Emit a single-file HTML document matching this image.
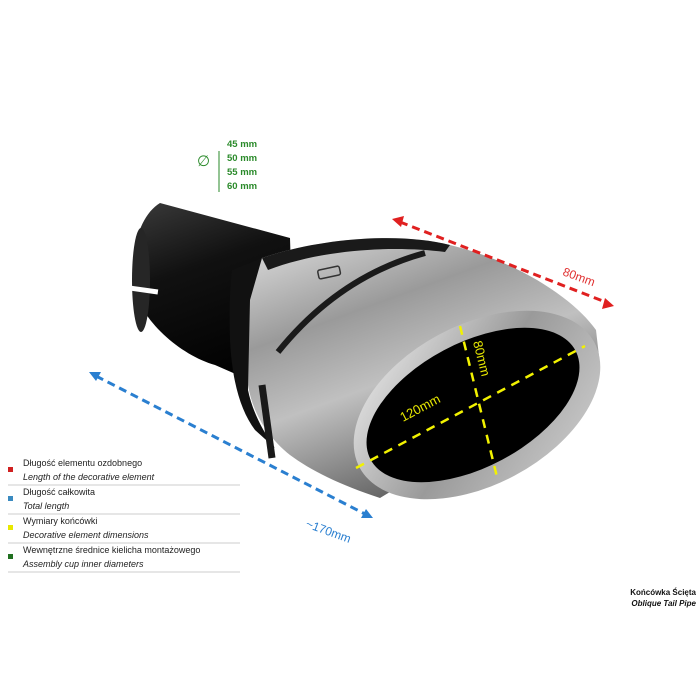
<!DOCTYPE html>
<html><head><meta charset="utf-8"><style>
html,body{margin:0;padding:0;background:#fff;width:700px;height:700px;overflow:hidden}
svg{display:block}
</style></head><body>
<svg width="700" height="700" viewBox="0 0 700 700" xmlns="http://www.w3.org/2000/svg" font-family="Liberation Sans, sans-serif">
<defs>
<linearGradient id="pipe" x1="0" y1="0" x2="0.3" y2="1">
<stop offset="0" stop-color="#3a3a3a"/><stop offset="0.4" stop-color="#111"/><stop offset="1" stop-color="#000"/>
</linearGradient>
<linearGradient id="chrome" x1="0" y1="0" x2="0.5" y2="1">
<stop offset="0" stop-color="#e0e0e0"/><stop offset="0.35" stop-color="#9a9a9a"/><stop offset="0.6" stop-color="#c0c0c0"/><stop offset="1" stop-color="#5a5a5a"/>
</linearGradient>
<linearGradient id="rim" x1="0" y1="0" x2="1" y2="1">
<stop offset="0" stop-color="#f0f0f0"/><stop offset="0.5" stop-color="#9a9a9a"/><stop offset="1" stop-color="#d0d0d0"/>
</linearGradient>
</defs>
<path d="M160,203 L290,238 L295,400 L215,365 C180,355 140,320 133,285 C130,250 140,215 160,203 Z" fill="url(#pipe)"/>
<ellipse cx="141" cy="280" rx="9" ry="52" fill="#262626"/>
<rect x="128" y="287" width="30" height="5" fill="#fff" transform="rotate(8 140 290)"/>
<path d="M262,258 C320,238 400,232 450,245 C520,262 575,300 596,330 L600,365 L380,498 C340,485 310,470 290,455 C265,435 252,410 248,385 L245,300 C247,280 252,265 262,258 Z" fill="url(#chrome)"/>
<path d="M262,258 C320,238 400,232 450,245 L445,252 C390,245 320,250 268,270 Z" fill="#1a1a1a"/>
<path d="M232,270 L262,258 L250,300 L248,390 C252,410 262,430 275,448 L255,430 C240,410 232,380 230,340 C229,310 230,285 232,270 Z" fill="#111"/>
<path d="M278,352 C320,300 370,268 425,253" stroke="#1a1a1a" stroke-width="6" fill="none"/>
<path d="M262,385 L272,458" stroke="#1a1a1a" stroke-width="7" fill="none"/>
<rect x="318" y="268" width="22" height="9" rx="2" fill="none" stroke="#333" stroke-width="1.5" transform="rotate(-12 329 272)"/>
<ellipse cx="477" cy="405" rx="133" ry="80" transform="rotate(-28 477 405)" fill="url(#rim)"/>
<ellipse cx="473" cy="405" rx="116" ry="62" transform="rotate(-28 473 405)" fill="#000"/>
<g stroke="#f2f200" stroke-width="2.5" stroke-dasharray="9,7" fill="none">
<line x1="356" y1="468" x2="585" y2="346"/>
<line x1="460" y1="326" x2="497" y2="477"/>
</g>
<text fill="#e8e800" font-size="13" transform="translate(403,422) rotate(-28)">120mm</text>
<text fill="#e8e800" font-size="13" transform="translate(473,342) rotate(76)">80mm</text>
<line x1="400" y1="222" x2="608" y2="303" stroke="#e02020" stroke-width="3" stroke-dasharray="8,5"/>
<polygon points="392,219 404,216 401,227" fill="#e02020"/>
<polygon points="614,306 602,309 605,298" fill="#e02020"/>
<text fill="#e03030" font-size="12" transform="translate(562,275) rotate(20)">80mm</text>
<line x1="96" y1="376" x2="365" y2="514" stroke="#2a7fd0" stroke-width="3" stroke-dasharray="8,5"/>
<polygon points="89,372 101,372 96,381" fill="#2a7fd0"/>
<polygon points="373,518 361,518 366,509" fill="#2a7fd0"/>
<text fill="#2a7fd0" font-size="12" transform="translate(305,527) rotate(20)">~170mm</text>
<g fill="#2a8a2a" font-size="9.5" font-weight="bold">
<text x="227" y="147">45 mm</text><text x="227" y="161">50 mm</text><text x="227" y="175">55 mm</text><text x="227" y="189">60 mm</text>
</g>
<line x1="219" y1="151" x2="219" y2="192" stroke="#2a8a2a" stroke-width="1"/>
<text x="197" y="166" fill="#2a8a2a" font-size="15">∅</text>
<g font-size="9" fill="#222">
<rect x="8" y="467" width="5" height="5" fill="#d02020"/>
<text x="23" y="466">Długość elementu ozdobnego</text>
<text x="23" y="480" font-style="italic">Length of the decorative element</text>
<line x1="8" y1="485" x2="240" y2="485" stroke="#ccc"/>
<rect x="8" y="496" width="5" height="5" fill="#3a8ac0"/>
<text x="23" y="495">Długość całkowita</text>
<text x="23" y="509" font-style="italic">Total length</text>
<line x1="8" y1="514" x2="240" y2="514" stroke="#ccc"/>
<rect x="8" y="525" width="5" height="5" fill="#e8e800"/>
<text x="23" y="524">Wymiary końcówki</text>
<text x="23" y="538" font-style="italic">Decorative element dimensions</text>
<line x1="8" y1="543" x2="240" y2="543" stroke="#ccc"/>
<rect x="8" y="554" width="5" height="5" fill="#207020"/>
<text x="23" y="553">Wewnętrzne średnice kielicha montażowego</text>
<text x="23" y="567" font-style="italic">Assembly cup inner diameters</text>
<line x1="8" y1="572" x2="240" y2="572" stroke="#ccc"/>
</g>
<g font-size="8" font-weight="bold" fill="#111" text-anchor="end">
<text x="696" y="595">Końcówka Ścięta</text>
<text x="696" y="606" font-style="italic">Oblique Tail Pipe</text>
</g>
</svg>
</body></html>
